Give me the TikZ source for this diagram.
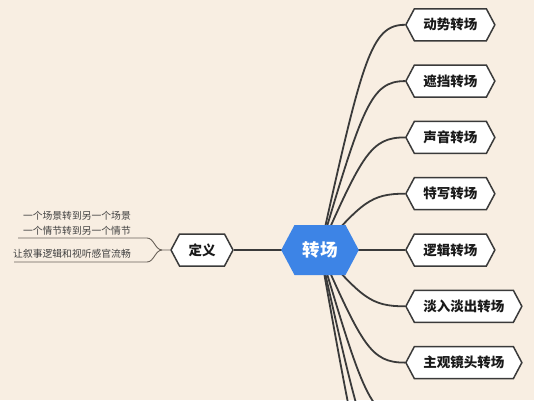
\documentclass[tikz,border=0pt]{standalone}
\usepackage{fontspec}
\setmainfont{Noto Sans CJK SC}
\usetikzlibrary{shapes.symbols,calc}
\pgfdeclarelayer{bg}
\pgfsetlayers{bg,main}
\definecolor{paper}{HTML}{F8EEE2}
\definecolor{ink}{HTML}{3A3A3A}
\definecolor{hub}{HTML}{3D84E6}
\definecolor{leaf}{HTML}{404040}
\definecolor{thin}{HTML}{6A625A}
\begin{document}
\begin{tikzpicture}[x=1pt,y=-1pt,
  hexbox/.style={signal, signal to=west and east, signal pointer angle=124,
    draw=ink, line width=1.5pt, fill=white,
    font=\bfseries\fontsize{13.5}{16}\selectfont, text=black!90,
    minimum height=32pt, inner xsep=9pt, inner ysep=0pt},
  hubbox/.style={signal, signal to=west and east, signal pointer angle=124,
    fill=hub, draw=none, text=white,
    font=\bfseries\fontsize{17.5}{20}\selectfont,
    minimum height=50pt, inner xsep=8pt, inner ysep=0pt},
  link/.style={draw=ink, line width=1.8pt},
  sublink/.style={draw=thin, line width=0.9pt},
  note/.style={font=\fontsize{9.8}{15}\selectfont, text=leaf, inner sep=0pt, align=right}]
\useasboundingbox (0,0) rectangle (534,400);
\clip (0,0) rectangle (534,400);

% central topic
\node[hubbox] (hub) at (320,250) {转场};
\node[hexbox] (def) at (202,250) {定义};

% right children
\node[hexbox, anchor=west] (r1) at (405,24.8) {动势转场};
\node[hexbox, anchor=west] (r2) at (405,81.1) {遮挡转场};
\node[hexbox, anchor=west] (r3) at (405,137.4) {声音转场};
\node[hexbox, anchor=west] (r4) at (405,193.7) {特写转场};
\node[hexbox, anchor=west] (r5) at (405,250) {逻辑转场};
\node[hexbox, anchor=west] (r6) at (405,306.3) {淡入淡出转场};
\node[hexbox, anchor=west] (r7) at (405,362.6) {主观镜头转场};
\coordinate (r8) at (405,418.9);
\coordinate (r9) at (405,475.2);
\coordinate (r10) at (405,531.5);

% left sub topics of 定义
\node[note, anchor=south east] (a) at (131,235.5) {一个场景转到另一个场景\\一个情节转到另一个情节};
\node[note, anchor=south east] (b) at (131,259) {让叙事逻辑和视听感官流畅};
\coordinate (j) at ($(def.west)+(-8,0)$);
\coordinate (aR) at (147,238);
\coordinate (aL) at (18,238);
\coordinate (bR) at (147,262);
\coordinate (bL) at (14,262);

\begin{pgfonlayer}{bg}
  \fill[paper] (0,0) rectangle (534,400);
  \foreach \k in {r1,r2,r3,r4,r5,r6,r7}{
    \draw[link] let \p1=(hub.center), \p2=(\k.west) in
      (\p1) .. controls ({\x1+0.5*(\x2-\x1)},{\y1+0.85*(\y2-\y1)})
             and ({\x1+0.6*(\x2-\x1)},\y2) .. (\p2);
  }
  \foreach \k in {r8,r9,r10}{
    \draw[link] let \p1=(hub.center), \p2=(\k) in
      (\p1) .. controls ({\x1+0.5*(\x2-\x1)},{\y1+0.85*(\y2-\y1)})
             and ({\x1+0.6*(\x2-\x1)},\y2) .. (\p2);
  }
  \draw[link] (hub.center) -- (def.east);
  \draw[sublink] (def.west) -- (j) .. controls ($(j)+(-7,0)$) and ($(aR)+(7,0)$) .. (aR) -- (aL);
  \draw[sublink] (j) .. controls ($(j)+(-7,0)$) and ($(bR)+(7,0)$) .. (bR) -- (bL);
\end{pgfonlayer}
\end{tikzpicture}
\end{document}
